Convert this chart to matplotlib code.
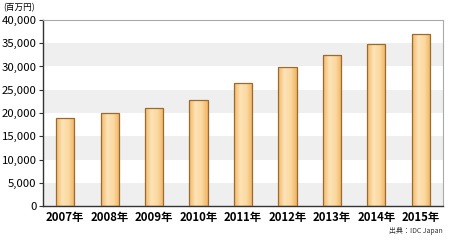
import matplotlib
matplotlib.use("Agg")
import matplotlib.pyplot as plt
import numpy as np
from matplotlib.colors import LinearSegmentedColormap

plt.rcParams['font.family'] = ['Noto Sans CJK JP', 'DejaVu Sans']

years = ["2007年", "2008年", "2009年", "2010年", "2011年", "2012年", "2013年", "2014年", "2015年"]
values = [19000, 20000, 21000, 22700, 26500, 29800, 32500, 34900, 37000]
yticks = [0, 5000, 10000, 15000, 20000, 25000, 30000, 35000, 40000]

fig = plt.figure(figsize=(4.5, 2.4), dpi=100)
ax = fig.add_axes([43/450, 34/240, 400/450, 186/240])
ax.set_xlim(-0.5, len(years) - 0.5)
ax.set_ylim(0, 40000)

# alternating bands
for i in range(0, len(yticks) - 1):
    if i % 2 == 0:
        ax.axhspan(yticks[i], yticks[i+1], color='#efefef', lw=0, zorder=0)

cmap = LinearSegmentedColormap.from_list('bar', ['#f2b865', '#fde3b8', '#fbd9a0', '#f0b462'])
grad = np.linspace(0, 1, 64).reshape(1, -1)
x = np.arange(len(years))
bars = ax.bar(x, values, width=0.41, facecolor='none', edgecolor='#9a6a30', lw=0.9, zorder=3)
for b in bars:
    x0, y0 = b.get_x(), b.get_y()
    w, h = b.get_width(), b.get_height()
    im = ax.imshow(grad, cmap=cmap, aspect='auto', extent=[x0, x0 + w, y0, y0 + h], zorder=2, interpolation='bilinear')
    im.set_clip_path(b)
ax.set_xlim(-0.5, len(years) - 0.5)
ax.set_ylim(0, 40000)

ax.set_yticks(yticks)
ax.set_yticklabels([f"{v:,}" for v in yticks], fontsize=8.2)
ax.set_xticks(x)
ax.set_xticklabels(years, fontsize=8.2, fontweight='bold')
ax.tick_params(axis='y', length=3, width=0.8, color='#333333', pad=1.5)
ax.tick_params(axis='x', length=0, pad=3.5)
for s in ['left', 'bottom']:
    ax.spines[s].set_color('#333333')
    ax.spines[s].set_linewidth(1.0)
for s in ['top', 'right']:
    ax.spines[s].set_color('#aaaaaa')
    ax.spines[s].set_linewidth(0.8)

fig.text(3/450, 1 - 8/240, "(百万円)", fontsize=6.2, va='center', ha='left')
fig.text(443/450, 1 - 231/240, "出典：IDC Japan", fontsize=5, va='center', ha='right', color='#333333')

fig.savefig("out.png", dpi=100)
